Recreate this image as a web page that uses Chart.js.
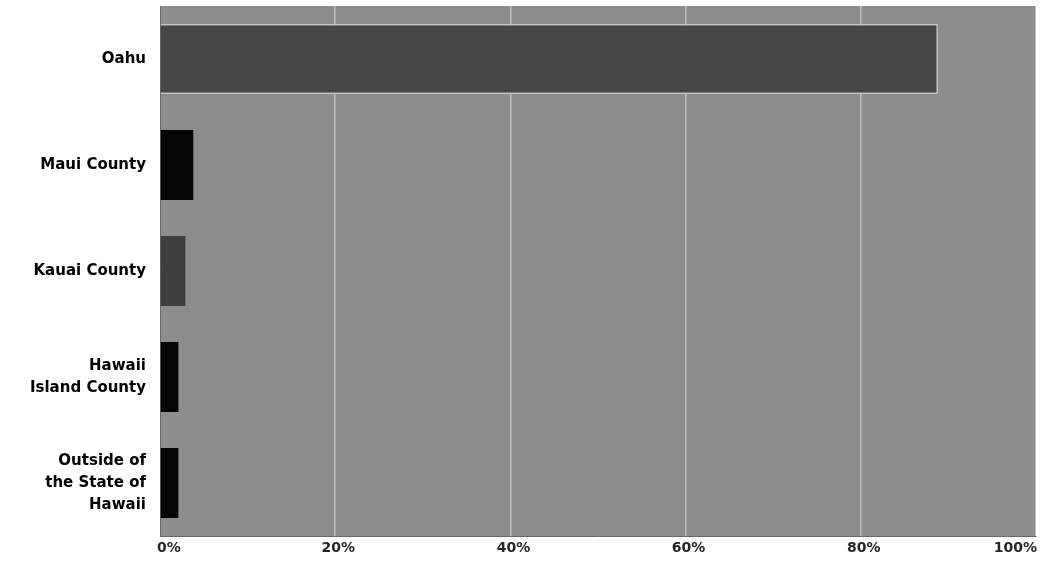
<!DOCTYPE html>
<html>
<head>
<meta charset="utf-8">
<script src="https://cdn.jsdelivr.net/npm/chart.js@4.4.1/dist/chart.umd.min.js"></script>
<style>
  html, body { margin: 0; padding: 0; background: #fff; }
  #wrap { width: 1042px; height: 583px; }
</style>
</head>
<body>
<div id="wrap"><canvas id="chart"></canvas></div>
<script>
// data
const regions = [
  'Oahu',
  'Maui County',
  'Kauai County',
  ['Hawaii', 'Island County'],
  ['Outside of', 'the State of', 'Hawaii']
]
const shares = [88.8, 3.8, 2.9, 2.1, 2.1]
const barColors = ['#484848', '#050505', '#3e3e3e', '#050505', '#050505']
const tickValues = [0, 20, 40, 60, 80, 100]

// grey plot area behind the bars
const plotBackground = {
  id: 'plotBackground',
  beforeDraw(chart) {
    const { ctx, chartArea: a } = chart
    ctx.save()
    ctx.fillStyle = '#8d8d8d'
    ctx.fillRect(a.left, a.top, a.right - a.left, a.bottom - a.top)
    ctx.restore()
  }
}

// percent labels under the axis, first and last pulled inside like the original
const percentLabels = {
  id: 'percentLabels',
  afterDraw(chart) {
    const { ctx } = chart
    const x = chart.scales.x
    ctx.save()
    ctx.font = 'bold 14px "DejaVu Sans", sans-serif'
    ctx.fillStyle = '#262626'
    ctx.textBaseline = 'middle'
    tickValues.forEach((v, i) => {
      const px = x.getPixelForValue(v)
      if (i === 0) {
        ctx.textAlign = 'left'
        ctx.fillText(v + '%', px - 3, 548)
      } else if (i === tickValues.length - 1) {
        ctx.textAlign = 'right'
        ctx.fillText(v + '%', px + 1, 548)
      } else {
        ctx.textAlign = 'center'
        ctx.fillText(v + '%', px + 3, 548)
      }
    })
    ctx.restore()
  }
}

new Chart(document.getElementById('chart'), {
  type: 'bar',
  data: {
    labels: regions,
    datasets: [{
      data: shares,
      backgroundColor: barColors,
      borderColor: ['#c8c8c8', '#050505', '#3e3e3e', '#050505', '#050505'],
      borderWidth: [1.5, 0, 0, 0, 0],
      borderSkipped: 'left',
      barPercentage: 0.66,
      categoryPercentage: 1
    }]
  },
  options: {
    indexAxis: 'y',
    responsive: true,
    maintainAspectRatio: false,
    animation: false,
    layout: { padding: { top: 6, right: 6, bottom: 0, left: 0 } },
    plugins: {
      legend: { display: false },
      tooltip: { enabled: false }
    },
    scales: {
      x: {
        min: 0,
        max: 100,
        ticks: { stepSize: 20, display: false },
        grid: { color: 'rgba(255,255,255,0.45)', lineWidth: 1.5, drawTicks: false },
        border: { display: true, color: '#6a6a6a' },
        afterFit(scale) { scale.height = 47 }
      },
      y: {
        grid: { display: false, drawTicks: false },
        border: { display: true, color: '#6a6a6a' },
        ticks: {
          color: '#000',
          padding: 14,
          font: { family: '"DejaVu Sans", sans-serif', size: 15, weight: 'bold', lineHeight: 1.45 }
        },
        afterFit(scale) {
          scale.width = 160
          scale.paddingTop = 0
          scale.paddingBottom = 0
        }
      }
    }
  },
  plugins: [plotBackground, percentLabels]
})
</script>
</body>
</html>
